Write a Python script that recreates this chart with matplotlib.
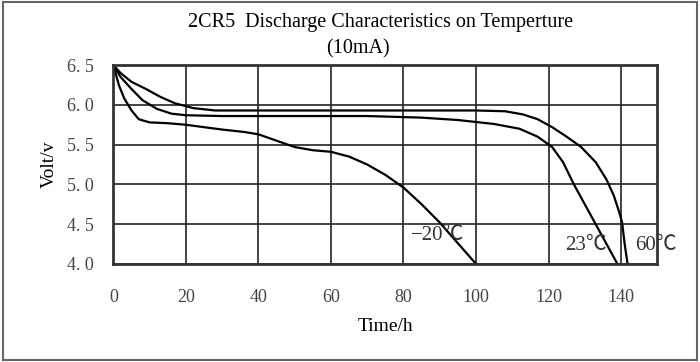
import matplotlib
matplotlib.use("Agg")
import matplotlib.pyplot as plt
from matplotlib.patches import Rectangle

# discharge curves (hours, volts)
t_60 = [0, 2, 5, 9, 13, 17, 22, 28, 40, 60, 80, 100, 108, 113, 117, 121, 125, 129, 133, 136, 138, 139.5, 140.3, 141, 141.8]
v_60 = [6.5, 6.4, 6.29, 6.2, 6.1, 6.02, 5.96, 5.93, 5.93, 5.93, 5.93, 5.93, 5.92, 5.88, 5.82, 5.72, 5.6, 5.47, 5.28, 5.06, 4.86, 4.65, 4.52, 4.25, 4.0]

t_23 = [0, 2, 5, 8, 12, 16, 20, 30, 50, 70, 85, 95, 105, 112, 117, 121, 124, 127, 130, 133, 136, 139]
v_23 = [6.5, 6.35, 6.2, 6.06, 5.95, 5.89, 5.87, 5.86, 5.86, 5.86, 5.84, 5.81, 5.76, 5.7, 5.6, 5.47, 5.28, 5.0, 4.75, 4.5, 4.25, 4.0]

t_m20 = [0, 1.5, 3, 5, 7, 10, 15, 20, 25, 30, 36, 40, 45, 50, 55, 60, 65, 70, 75, 80, 85, 90, 95, 100]
v_m20 = [6.5, 6.25, 6.08, 5.93, 5.82, 5.78, 5.77, 5.75, 5.72, 5.69, 5.66, 5.63, 5.55, 5.47, 5.43, 5.41, 5.35, 5.25, 5.12, 4.96, 4.75, 4.52, 4.26, 4.0]

x_ticks = [0, 20, 40, 60, 80, 100, 120, 140]
y_ticks = [4.0, 4.5, 5.0, 5.5, 6.0, 6.5]
y_ticklabels = ["4. 0", "4. 5", "5. 0", "5. 5", "6. 0", "6. 5"]
labels = ["\u221220\u2103", "23\u2103", "60\u2103"]
label_pos = [(82, 4.36), (124.5, 4.23), (143.8, 4.23)]

plt.rcParams["font.family"] = ["Liberation Serif", "Noto Sans CJK SC", "DejaVu Sans"]

fig = plt.figure(figsize=(7, 3.62), dpi=100)
fig.patches.append(Rectangle((0.004, 0.006), 0.992, 0.988, transform=fig.transFigure,
                             fill=False, edgecolor="#666666", linewidth=1.5))
ax = fig.add_axes([0.162, 0.271, 0.777, 0.549])

for t, v in [(t_60, v_60), (t_23, v_23), (t_m20, v_m20)]:
    ax.plot(t, v, color="black", linewidth=1.6)

ax.set_xlim(0, 150)
ax.set_ylim(4.0, 6.5)
ax.set_xticks(x_ticks)
ax.set_yticks(y_ticks)
ax.set_yticklabels(y_ticklabels)
ax.grid(True, color="#222222", linewidth=1.2)
ax.tick_params(length=0, labelsize=13, labelcolor="#444444")
ax.tick_params(axis="x", pad=18)
ax.tick_params(axis="y", pad=14)
for s in ax.spines.values():
    s.set_linewidth(2)
    s.set_color("#333333")

for lab, (x, y) in zip(labels, label_pos):
    ax.text(x, y, lab, fontsize=15, color="#333333", ha="left", va="center",
            clip_on=False)

ax.set_xlabel("Time/h", fontsize=14, labelpad=9)
ax.set_ylabel("Volt/v", fontsize=14, labelpad=7)
fig.text(0.543, 0.939, "2CR5  Discharge Characteristics on Temperture",
         ha="center", va="center", fontsize=14.5)
fig.text(0.512, 0.866, "(10mA)", ha="center", va="center", fontsize=14.5)

fig.savefig("out.png", dpi=100)
